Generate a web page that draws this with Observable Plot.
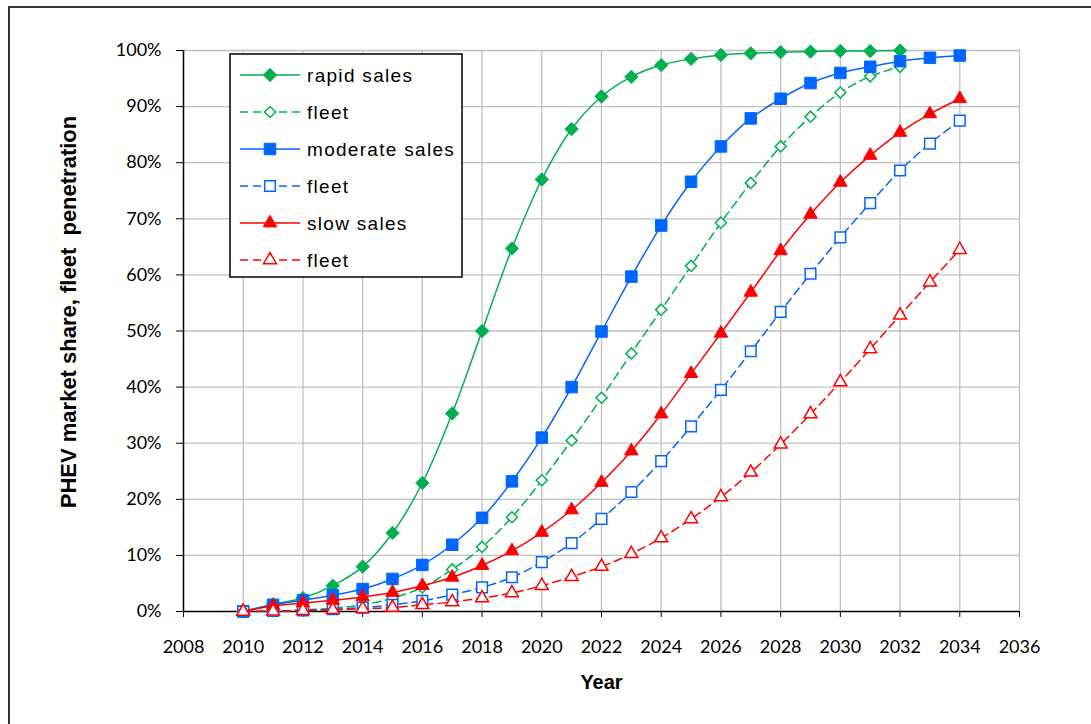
<!DOCTYPE html>
<html><head><meta charset="utf-8">
<script src="https://cdn.jsdelivr.net/npm/d3@7"></script>
<script src="https://cdn.jsdelivr.net/npm/@observablehq/plot@0.6"></script>
<style>
html,body{margin:0;padding:0;background:#fff;overflow:hidden;width:1091px;height:724px;}
#wrap{position:relative;width:1091px;height:724px;overflow:hidden;}
#frame{position:absolute;left:8px;top:6px;width:1200px;height:800px;border:2px solid #333;box-sizing:border-box;pointer-events:none;}
#chart{position:absolute;left:0;top:0;}
#legend{position:absolute;left:229px;top:53px;}
#chart svg g[aria-label$="tick label"], #chart svg g[aria-label$="tick label"] text{font-family:Lato, "Open Sans", sans-serif !important;font-size:18px !important;}
</style></head><body><div id="wrap"><div id="chart"></div><div id="legend"></div><div id="frame"></div></div>
<script>
// ---- data ----
const years = [2010,2011,2012,2013,2014,2015,2016,2017,2018,2019,2020,2021,2022,2023,2024,2025,2026,2027,2028,2029,2030,2031,2032,2033,2034];
const rapidSales    = [0,1.3,2.4,4.6,8.0,14.0,22.9,35.3,50.0,64.7,77.0,86.0,91.8,95.3,97.4,98.5,99.2,99.5,99.7,99.8,99.9,99.9,100];
const rapidFleet    = [0,0.05,0.3,0.6,1.2,2.4,4.3,7.5,11.5,16.8,23.4,30.5,38.1,46.0,53.8,61.6,69.3,76.4,82.9,88.2,92.5,95.4,97.1];
const moderateSales = [0,1.2,2.0,2.9,4.0,5.8,8.3,11.9,16.7,23.2,31.0,40.0,49.9,59.7,68.8,76.6,82.9,87.9,91.4,94.2,96.0,97.1,98.1,98.7,99.1];
const moderateFleet = [0,0.1,0.2,0.4,0.7,1.2,1.9,3.0,4.3,6.1,8.8,12.2,16.5,21.3,26.8,33.0,39.5,46.4,53.4,60.2,66.7,72.8,78.6,83.4,87.5];
const slowSales     = [0,1.0,1.5,2.0,2.6,3.4,4.6,6.1,8.2,10.8,14.1,18.1,23.0,28.6,35.2,42.4,49.6,56.9,64.3,70.8,76.5,81.3,85.4,88.7,91.4];
const slowFleet     = [0,0.05,0.15,0.3,0.5,0.7,1.2,1.7,2.4,3.3,4.6,6.2,8.0,10.3,13.1,16.5,20.4,24.8,29.8,35.2,40.9,46.8,52.8,58.7,64.5];
const seriesNames = ["rapid sales","fleet","moderate sales","fleet","slow sales","fleet"];
const xTicks = [2008,2010,2012,2014,2016,2018,2020,2022,2024,2026,2028,2030,2032,2034,2036];
const yTicks = [0,10,20,30,40,50,60,70,80,90,100];
const yTitle = "PHEV market share, fleet\u00a0 penetration";
const xTitle = "Year";

// ---- styles ----
const GREEN = "#00b050", BLUE = "#0066ff", RED = "#ff0000";
const styles = [
  {color: GREEN, symbol: "diamond2", r: 6,   filled: true,  dash: null},
  {color: GREEN, symbol: "diamond2", r: 5,   filled: false, dash: "8,5"},
  {color: BLUE,  symbol: "square",   r: 6.5, filled: true,  dash: null},
  {color: BLUE,  symbol: "square",   r: 6,   filled: false, dash: "8,5"},
  {color: RED,   symbol: "triangle", r: 5,   filled: true,  dash: null},
  {color: RED,   symbol: "triangle", r: 4.8, filled: false, dash: "8,5"}
];
const seriesValues = [rapidSales, rapidFleet, moderateSales, moderateFleet, slowSales, slowFleet];
const tables = seriesValues.map(vals => vals.map((v, i) => ({year: years[i], value: v})));

const seriesMarks = [];
tables.forEach((t, k) => {
  const s = styles[k];
  seriesMarks.push(Plot.line(t, {x: "year", y: "value", stroke: s.color, strokeWidth: 1.5,
    strokeDasharray: s.dash, curve: "catmull-rom"}));
  seriesMarks.push(Plot.dot(t, {x: "year", y: "value", symbol: () => s.symbol, r: s.r,
    fill: s.filled ? s.color : "#fff", stroke: s.color, strokeWidth: s.filled ? 1 : 1.5}));
});

const tickFont = "Lato, 'Open Sans', sans-serif";
const titleFont = "Liberation Sans, Arial, sans-serif";
const grid = {stroke: "#c0c0c0", strokeOpacity: 1, strokeWidth: 1.3};
const chart = Plot.plot({
  width: 1091, height: 724,
  marginLeft: 183, marginRight: 72, marginTop: 50, marginBottom: 113,
  style: {fontFamily: tickFont, fontSize: "18px", color: "#000", background: "transparent"},
  x: {domain: [2008, 2036]},
  y: {domain: [0, 100]},
  marks: [
    Plot.gridX(xTicks.filter(d => d > 2008), grid),
    Plot.gridY(yTicks.filter(d => d > 0), grid),
    Plot.ruleX([2008], {stroke: "#000", strokeWidth: 1.5}),
    Plot.ruleY([0], {stroke: "#000", strokeWidth: 1.5}),
    Plot.axisX({ticks: xTicks, tickFormat: d => String(d), tickSize: 6, tickPadding: 23, label: null,
      fontSize: 18, fontFamily: tickFont}),
    Plot.axisY({ticks: yTicks, tickFormat: d => d + "%", tickSize: 7, tickPadding: 15, label: null,
      fontSize: 18, fontFamily: tickFont}),
    ...seriesMarks,
    Plot.text([yTitle], {text: d => d, frameAnchor: "left", textAnchor: "middle", rotate: -90, dx: -115, dy: -19,
      fontSize: 22, fontWeight: "bold", fontFamily: titleFont}),
    Plot.text([xTitle], {text: d => d, frameAnchor: "bottom", dy: 77,
      fontSize: 20, fontWeight: "bold", fontFamily: titleFont})
  ]
});
document.getElementById("chart").appendChild(chart);

// ---- legend ----
const symMap = {diamond2: d3.symbolDiamond2, square: d3.symbolSquare, triangle: d3.symbolTriangle};
const lg = d3.select("#legend").append("svg").attr("width", 236).attr("height", 227);
lg.append("rect").attr("x", 1).attr("y", 1).attr("width", 232).attr("height", 223)
  .attr("fill", "#fff").attr("stroke", "#000").attr("stroke-width", 1.5);
seriesNames.forEach((name, k) => {
  const s = styles[k];
  const cy = 22 + k * 37;
  lg.append("line").attr("x1", 11).attr("x2", 71).attr("y1", cy).attr("y2", cy)
    .attr("stroke", s.color).attr("stroke-width", 1.5).attr("stroke-dasharray", s.dash);
  lg.append("path").attr("transform", `translate(41,${cy})`)
    .attr("d", d3.symbol(symMap[s.symbol], Math.PI * s.r * s.r)())
    .attr("fill", s.filled ? s.color : "#fff").attr("stroke", s.color).attr("stroke-width", s.filled ? 1 : 1.5);
  lg.append("text").attr("x", 78).attr("y", cy).attr("dy", "0.35em")
    .attr("font-family", titleFont).attr("font-size", 19)
    .attr("letter-spacing", "1.3px").attr("fill", "#000").text(name);
});
</script>
</body></html>
